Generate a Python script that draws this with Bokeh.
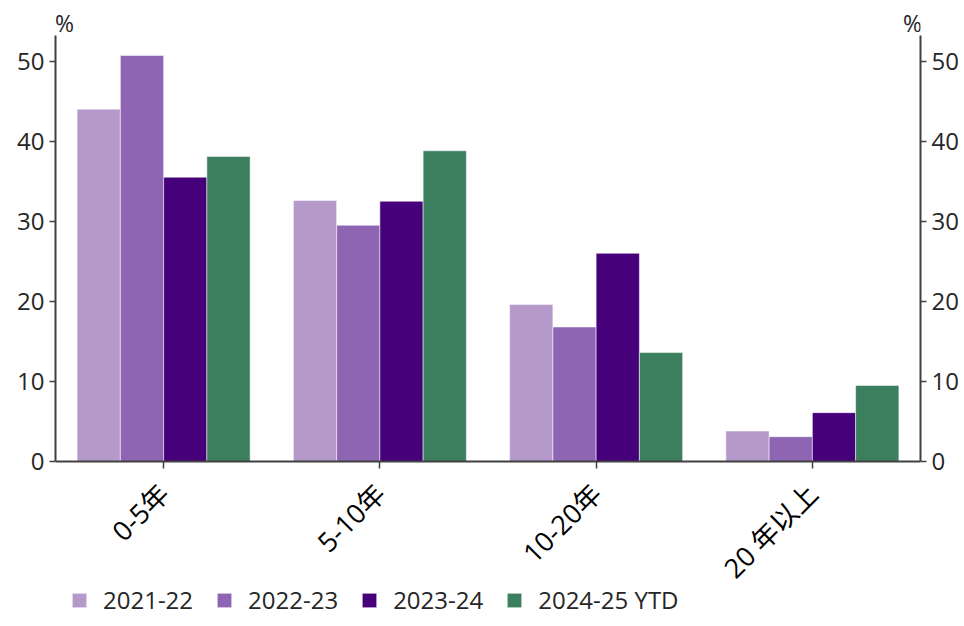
import math
from bokeh.plotting import figure
from bokeh.models import (ColumnDataSource, FactorRange, Range1d, LinearAxis,
                          Legend, LegendItem, Label, FixedTicker)
from bokeh.transform import dodge
from bokeh.embed import file_html
from bokeh.resources import INLINE

categories = ["0-5年", "5-10年", "10-20年", "20 年以上"]
series_names = ["2021-22", "2022-23", "2023-24", "2024-25 YTD"]
v2021_22 = [44.0, 32.6, 19.6, 3.8]
v2022_23 = [50.7, 29.5, 16.8, 3.1]
v2023_24 = [35.5, 32.5, 26.0, 6.1]
v2024_25 = [38.1, 38.8, 13.6, 9.5]
colors = ["#b499ca", "#8e65b2", "#46007a", "#3b7f5e"]
y_ticks = [0, 10, 20, 30, 40, 50]

FONT = "'Open Sans', 'Noto Sans CJK SC', sans-serif"
TXT = "#262626"
AX = "#404040"

# layout (pixels)
Y_AXIS_TOP = 53.2          # value at the top end of the y axes
PX_PER_UNIT = 426 / Y_AXIS_TOP
ABOVE_PX = 27              # room above the axes for the "%" marks
BELOW_PX = 179             # room below the baseline for names and legend
FRAME_H = 426 + ABOVE_PX + BELOW_PX

src = ColumnDataSource(dict(cat=categories, s0=v2021_22, s1=v2022_23,
                            s2=v2023_24, s3=v2024_25))

p = figure(x_range=FactorRange(factors=categories, range_padding=0),
           y_range=Range1d(-BELOW_PX / PX_PER_UNIT, Y_AXIS_TOP + ABOVE_PX / PX_PER_UNIT),
           frame_width=865, frame_height=FRAME_H,
           output_backend="svg", toolbar_location=None,
           min_border_left=55, min_border_right=0, min_border_top=8,
           min_border_bottom=0)
p.outline_line_color = None
p.xgrid.grid_line_color = None
p.ygrid.grid_line_color = None
p.background_fill_color = "white"
p.border_fill_color = "white"

offsets = [-0.3, -0.1, 0.1, 0.3]
keys = ["s0", "s1", "s2", "s3"]
renderers = []
for k, off, c in zip(keys, offsets, colors):
    r = p.vbar(x=dodge("cat", off, range=p.x_range), top=k, width=0.2, source=src,
               fill_color=c, line_color="white", line_alpha=0.5, line_width=1)
    renderers.append(r)

def style_y(ax):
    ax.ticker = FixedTicker(ticks=y_ticks)
    ax.bounds = (0, Y_AXIS_TOP)
    ax.axis_line_color = AX
    ax.axis_line_width = 2
    ax.major_tick_line_color = AX
    ax.major_tick_line_width = 1.5
    ax.major_tick_out = 6
    ax.major_tick_in = 0
    ax.minor_tick_line_color = None
    ax.major_label_text_font = FONT
    ax.major_label_text_font_size = "24px"
    ax.major_label_text_color = TXT
    ax.major_label_standoff = 5

style_y(p.yaxis[0])
ry = LinearAxis()
style_y(ry)
p.add_layout(ry, "right")

xa = p.xaxis[0]
xa.fixed_location = 0
xa.axis_line_color = AX
xa.axis_line_width = 2
xa.major_tick_line_color = AX
xa.major_tick_line_width = 1.5
xa.major_tick_out = 7
xa.major_tick_in = 0
xa.minor_tick_line_color = None
xa.major_label_orientation = math.pi / 4
xa.major_label_text_font = FONT
xa.major_label_text_font_size = "27px"
xa.major_label_text_color = "#000000"
xa.major_label_standoff = 20

for xv, off in [(0, 9), (4, -8)]:
    p.add_layout(Label(x=xv, y=54.8, x_offset=off, text="%", text_align="center",
                       text_baseline="middle", text_font=FONT,
                       text_font_size="23px", text_color=TXT))

legend = Legend(items=[LegendItem(label=n, renderers=[r]) for n, r in zip(series_names, renderers)],
                orientation="horizontal", location=(15, 24),
                label_text_font=FONT, label_text_font_size="24px",
                label_text_color=TXT, glyph_width=18, glyph_height=18,
                label_standoff=15, spacing=22, border_line_color=None,
                background_fill_alpha=0, padding=0, margin=0)
p.add_layout(legend, "center")

open("out.html", "w").write(file_html(p, INLINE))
